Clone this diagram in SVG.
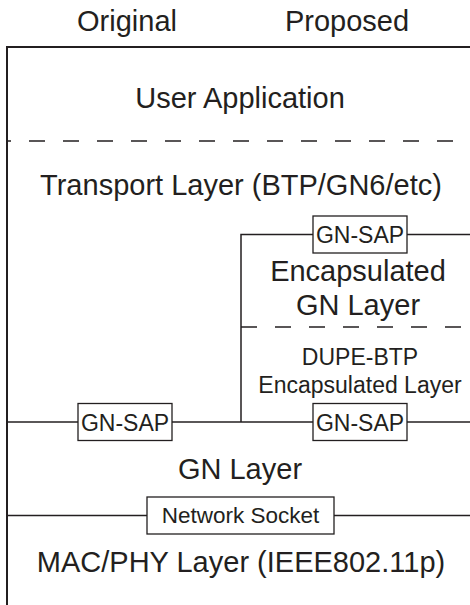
<svg xmlns="http://www.w3.org/2000/svg" width="470" height="605" viewBox="0 0 470 605">
<style>
text{font-family:'Liberation Sans',sans-serif;fill:#231f20;text-anchor:middle}
.big{font-size:29px}
.mid{font-size:23px}
.line{stroke:#231f20;stroke-width:1.5;fill:none}
.frame{stroke:#231f20;stroke-width:2;fill:none}
.dash{stroke:#231f20;stroke-width:1.5;fill:none;stroke-dasharray:16 18}
.box{stroke:#231f20;stroke-width:1.3;fill:#fff}
</style>
<rect width="470" height="605" fill="#fff"/>
<g id="headers">
<text class="big" x="127" y="31">Original</text>
<text class="big" x="347" y="31">Proposed</text>
</g>
<g id="connectors">
<path class="frame" d="M7,605 V47 H470"/>
<path class="dash" d="M7,141 H470" stroke-dashoffset="12"/>
<path class="line" d="M241,422 V234.5 H470"/>
<path class="dash" d="M241,327 H470"/>
<path class="line" d="M7,422 H470"/>
<path class="line" d="M7,515.5 H470"/>
</g>
<g id="user-application"><text class="big" x="240" y="108">User Application</text></g>
<g id="transport-layer"><text class="big" x="241" y="195">Transport Layer (BTP/GN6/etc)</text></g>
<g id="gn-sap-top">
<rect class="box" x="313" y="216" width="94" height="37"/>
<text class="mid" x="360" y="243">GN-SAP</text>
</g>
<g id="encapsulated-gn-layer">
<text class="big" x="358" y="281">Encapsulated</text>
<text class="big" x="358" y="315">GN Layer</text>
</g>
<g id="dupe-btp">
<text class="mid" x="360" y="365">DUPE-BTP</text>
<text class="mid" x="360" y="393">Encapsulated Layer</text>
</g>
<g id="gn-sap-left">
<rect class="box" x="78" y="403.5" width="94" height="37"/>
<text class="mid" x="125" y="430.5">GN-SAP</text>
</g>
<g id="gn-sap-right">
<rect class="box" x="313" y="403.5" width="94" height="37"/>
<text class="mid" x="360" y="430.5">GN-SAP</text>
</g>
<g id="gn-layer"><text class="big" x="240" y="479">GN Layer</text></g>
<g id="network-socket">
<rect class="box" x="147" y="497" width="187" height="37"/>
<text class="mid" x="240.5" y="523" style="font-size:22.5px">Network Socket</text>
</g>
<g id="mac-phy-layer"><text class="big" x="241" y="572">MAC/PHY Layer (IEEE802.11p)</text></g>
</svg>
